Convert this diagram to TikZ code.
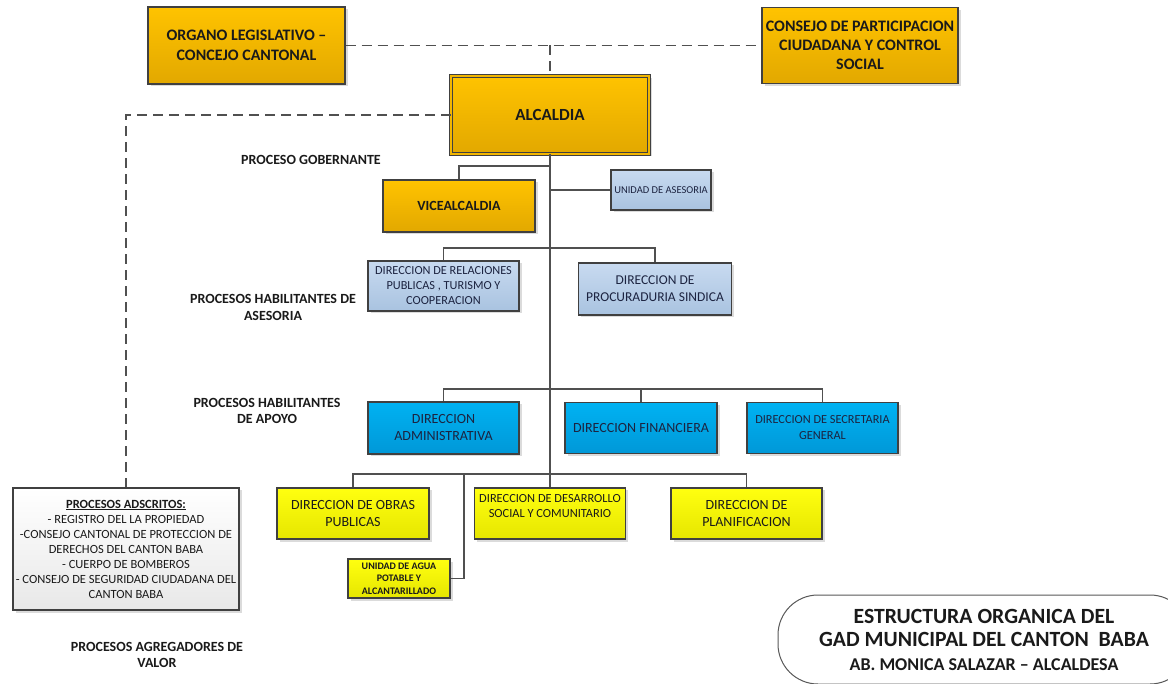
\documentclass[tikz,border=0pt]{standalone}
\usepackage{fontspec}
\setmainfont{Carlito}
\usetikzlibrary{shadows}
\definecolor{orgtop}{HTML}{FFC300}
\definecolor{orgbot}{HTML}{E2A800}
\definecolor{orgmid}{HTML}{F2B600}
\definecolor{lbtop}{HTML}{C8DAF0}
\definecolor{lbbot}{HTML}{A9C3E0}
\definecolor{cytop}{HTML}{00B2F2}
\definecolor{cybot}{HTML}{0098D8}
\definecolor{yltop}{HTML}{FFFF10}
\definecolor{ylbot}{HTML}{E6E600}
\definecolor{boxline}{HTML}{404040}
\definecolor{connline}{HTML}{505050}
\definecolor{txt}{HTML}{1A1A1A}
\definecolor{navytxt}{HTML}{1C2340}
\tikzset{
  fs/.style 2 args={font=\fontsize{#1}{#2}\selectfont},
  fsb/.style 2 args={font=\fontsize{#1}{#2}\selectfont\bfseries},
  box/.style={draw=boxline, line width=1.2pt, align=center, inner sep=2pt, text=txt,
    drop shadow={shadow xshift=2.5pt, shadow yshift=-2.5pt, fill=black!28}},
  obox/.style={box, top color=orgtop, bottom color=orgbot},
  lbox/.style={box, top color=lbtop, bottom color=lbbot, text=navytxt},
  cbox/.style={box, top color=cytop, bottom color=cybot, text=navytxt},
  ybox/.style={box, top color=yltop, bottom color=ylbot},
  gbox/.style={box, top color=white, bottom color=black!9},
  conn/.style={draw=connline, line width=1.3pt},
  dashline/.style={draw=connline, line width=1.2pt, dash pattern=on 10pt off 6pt},
  lbl/.style={align=center, text=txt, inner sep=0pt},
}
\begin{document}
\begin{tikzpicture}[x=1pt,y=-1pt]
\useasboundingbox[fill=white] (0,0) rectangle (1168,684);

% top level
\node[obox, minimum width=197pt, minimum height=77pt, fsb={16}{20}] (organo) at (246.5,45.5) {ORGANO LEGISLATIVO –\\CONCEJO CANTONAL};
\node[obox, minimum width=196pt, minimum height=76pt, fsb={16}{19}] (consejo) at (860,45.5) {CONSEJO DE PARTICIPACION\\CIUDADANA Y CONTROL\\SOCIAL};
\node[obox, minimum width=198pt, minimum height=78pt, fsb={17}{20}, line width=1pt, double=orgmid, double distance=2.2pt] (alcaldia) at (550,115) {ALCALDIA};

\node[obox, minimum width=152pt, minimum height=52pt, fsb={14}{17}] (vice) at (459,206) {VICEALCALDIA};
\node[lbox, minimum width=100pt, minimum height=40pt, fs={10.5}{12}] (unidad) at (661,190) {UNIDAD DE ASESORIA};

\node[lbox, minimum width=151pt, minimum height=50pt, fs={12.3}{15}] (relac) at (443.5,286) {DIRECCION DE RELACIONES\\PUBLICAS , TURISMO Y\\COOPERACION};
\node[lbox, minimum width=153pt, minimum height=52pt, fs={13.5}{17}] (procur) at (655,289) {DIRECCION DE\\PROCURADURIA SINDICA};

\node[cbox, minimum width=151pt, minimum height=52pt, fs={14}{17}] (admin) at (443.5,428) {DIRECCION\\ADMINISTRATIVA};
\node[cbox, minimum width=152pt, minimum height=51pt, fs={14}{17}] (financ) at (641,428) {DIRECCION FINANCIERA};
\node[cbox, minimum width=151pt, minimum height=51pt, fs={12.3}{16}] (secret) at (822.5,428) {DIRECCION DE SECRETARIA\\GENERAL};

\node[ybox, minimum width=152pt, minimum height=51pt, fs={14}{17}] (obras) at (353,513.5) {DIRECCION DE OBRAS\\PUBLICAS};
\node[ybox, minimum width=151pt, minimum height=51pt, fs={12.4}{15}] (desarr) at (550,513.5) {DIRECCION DE DESARROLLO\\SOCIAL Y COMUNITARIO\\\mbox{}};
\node[ybox, minimum width=151pt, minimum height=51pt, fs={14}{17}] (planif) at (746.5,513.5) {DIRECCION DE\\PLANIFICACION};
\node[ybox, minimum width=102pt, minimum height=39pt, fsb={10}{12.5}] (agua) at (399,578.5) {UNIDAD DE AGUA\\POTABLE Y\\ALCANTARILLADO};

\node[gbox, minimum width=226pt, minimum height=122pt, fs={12.5}{15}] (adscritos) at (126,549) {\underline{\textbf{PROCESOS ADSCRITOS:}}\\- REGISTRO DEL LA PROPIEDAD\\-CONSEJO CANTONAL DE PROTECCION DE\\DERECHOS DEL CANTON BABA\\- CUERPO DE BOMBEROS\\- CONSEJO DE SEGURIDAD CIUDADANA DEL\\CANTON BABA};

% labels
\node[lbl, fsb={14}{17}] (lgob) at (311,160) {PROCESO GOBERNANTE};
\node[lbl, fsb={14}{17}] (lases) at (273,307.5) {PROCESOS HABILITANTES DE\\ASESORIA};
\node[lbl, fsb={14}{16}] (lapo) at (267,410.5) {PROCESOS HABILITANTES\\DE APOYO};
\node[lbl, fsb={14}{16}] (lagr) at (157,655) {PROCESOS AGREGADORES DE\\VALOR};

% title
\node[draw=black!65, line width=1pt, rounded corners=40pt, fill=white, minimum width=412pt, minimum height=89pt, align=center, text=txt, fsb={21.7}{23.5}, inner sep=0pt] (ttl) at (984,639.5) {ESTRUCTURA ORGANICA DEL\\GAD MUNICIPAL DEL CANTON\ \ BABA\\{\fontsize{18}{20}\selectfont AB. MONICA SALAZAR – ALCALDESA}};

% connectors
\coordinate (d1) at (550,45.5);
\coordinate (d2) at (126,115);
\draw[dashline] (organo.east) -- (consejo.west);
\draw[dashline] (d1) -- (alcaldia.north);
\draw[dashline] (alcaldia.west) -- (d2) -- (adscritos.north);

\coordinate (b1) at (550,166);
\coordinate (b2) at (550,190);
\coordinate (b3) at (550,248);
\coordinate (b4) at (550,389);
\coordinate (b5) at (550,474);
\coordinate (b6) at (464,474);
\draw[conn] (alcaldia.south) -- (desarr.north);
\draw[conn] (b1) -| (vice.north);
\draw[conn] (b2) -- (unidad.west);
\draw[conn] (relac.north) |- (b3) -| (procur.north);
\draw[conn] (admin.north) |- (b4) -| (secret.north);
\draw[conn] (financ.north) -- (financ.north |- b4);
\draw[conn] (obras.north) |- (b5) -| (planif.north);
\draw[conn] (agua.east) -| (b6);
\end{tikzpicture}
\end{document}
